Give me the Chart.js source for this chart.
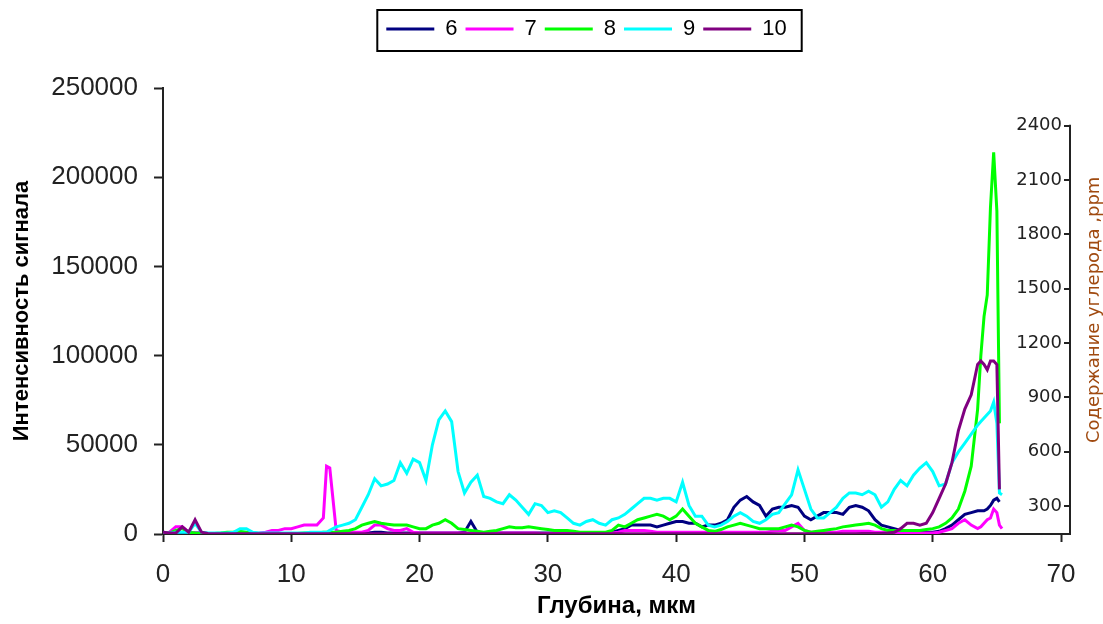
<!DOCTYPE html>
<html>
<head>
<meta charset="utf-8">
<script src="https://cdn.jsdelivr.net/npm/chart.js@4.4.1/dist/chart.umd.min.js"></script>
<style>
  html, body { margin: 0; padding: 0; background: #fff; }
  #wrap { width: 1103px; height: 624px; }
</style>
</head>
<body>
<div id="wrap"><canvas id="depthChart" width="1103" height="624"></canvas></div>
<script>
// Глубина, мкм
const depth = [
  0, 0.5, 1, 1.5, 2, 2.5, 3, 3.5, 4, 4.5,
  5, 5.5, 6, 6.5, 7, 7.5, 8, 8.5, 9, 9.5,
  10, 10.5, 11, 11.5, 12, 12.5, 12.75, 13, 13.5, 14,
  14.5, 15, 15.5, 16, 16.5, 17, 17.5, 18, 18.5, 19,
  19.5, 20, 20.5, 21, 21.5, 22, 22.5, 23, 23.5, 24,
  24.5, 25, 25.5, 26, 26.5, 27, 27.5, 28, 28.5, 29,
  29.5, 30, 30.5, 31, 31.5, 32, 32.5, 33, 33.5, 34,
  34.5, 35, 35.5, 36, 36.5, 37, 37.5, 38, 38.5, 39,
  39.5, 40, 40.5, 41, 41.5, 42, 42.5, 43, 43.5, 44,
  44.5, 45, 45.5, 46, 46.5, 47, 47.5, 48, 48.5, 49,
  49.5, 50, 50.5, 51, 51.5, 52, 52.5, 53, 53.5, 54,
  54.5, 55, 55.5, 56, 56.5, 57, 57.5, 58, 58.5, 59,
  59.5, 60, 60.5, 61, 61.5, 62, 62.5, 63, 63.5,
  63.75, 64, 64.25, 64.5, 64.75, 65, 65.2, 65.4
];

// Интенсивность сигнала по образцам
const signal6 = [
  1000, 500, 500, 500, 500, 500, 500, 300, 300, 300,
  300, 300, 300, 300, 300, 300, 300, 300, 300, 300,
  300, 300, 300, 300, 300, 300, 300, 300, 300, 300,
  300, 300, 500, 500, 1000, 1000, 500, 500, 500, 500,
  500, 500, 500, 500, 500, 500, 500, 500, 1000, 7000,
  1000, 500, 500, 500, 500, 500, 500, 500, 500, 500,
  500, 500, 500, 500, 500, 500, 500, 500, 500, 500,
  500, 1000, 2000, 3000, 5000, 5000, 5000, 5000, 4000, 5000,
  6000, 7000, 7000, 6000, 6000, 4000, 5000, 5000, 6000, 8000,
  15000, 19000, 21000, 18000, 16000, 10000, 14000, 15000, 15000, 16000,
  15000, 10000, 8000, 10000, 12000, 12000, 12000, 11000, 15000, 16000,
  15000, 13000, 8000, 5000, 4000, 3000, 2000, 1000, 1000, 1000,
  1000, 1000, 1500, 3000, 5000, 8000, 11000, 12000, 13000,
  13000, 13000, 14000, 16000, 19000, 20000, 18000, null
];
const signal7 = [
  500, 1000, 4000, 4000, 1000, 500, 300, 300, 300, 300,
  300, 300, 300, 300, 300, 500, 1000, 2000, 2000, 3000,
  3000, 4000, 5000, 5000, 5000, 9000, 38000, 37000, 2000, 1000,
  1000, 1000, 1000, 2000, 5000, 5000, 3000, 2000, 2000, 3000,
  1000, 500, 500, 500, 500, 500, 500, 500, 500, 500,
  500, 500, 500, 500, 500, 500, 500, 500, 500, 500,
  300, 300, 300, 300, 300, 300, 300, 300, 300, 300,
  300, 500, 1000, 2000, 2000, 2000, 2000, 1500, 1000, 1000,
  1000, 1000, 1000, 1000, 1000, 1000, 1000, 1000, 1000, 1000,
  1000, 1000, 1000, 1000, 1000, 1000, 1500, 2000, 2000, 4000,
  6000, 2000, 1000, 1000, 1000, 1000, 1000, 1500, 1500, 1500,
  1500, 1500, 1000, 1000, 1000, 500, 500, 500, 500, 500,
  500, 500, 1000, 2000, 3000, 6000, 8000, 5000, 3000,
  4000, 6000, 8000, 9000, 14000, 12000, 5000, 3000
];
const signal8 = [
  300, 500, 2000, 3000, 1000, 500, 300, 300, 300, 500,
  1000, 1000, 1500, 1000, 500, 300, 300, 300, 300, 300,
  300, 300, 500, 500, 500, 1000, 1000, 1000, 1000, 1500,
  2000, 3000, 5000, 6000, 7000, 6000, 5500, 5000, 5000, 5000,
  4000, 3000, 3000, 5000, 6000, 8000, 6000, 3000, 2500, 2000,
  1500, 1000, 1500, 2000, 3000, 4000, 3500, 3500, 4000, 3500,
  3000, 2500, 2000, 2000, 2000, 1500, 1000, 1000, 1000, 1000,
  1000, 2000, 5000, 4000, 6000, 8000, 9000, 10000, 11000, 10000,
  8000, 10000, 14000, 10000, 6000, 4000, 2000, 1500, 2500, 4000,
  5000, 6000, 5000, 4000, 3000, 3000, 3000, 3000, 4000, 5000,
  4000, 2000, 1000, 1500, 2000, 2500, 3000, 4000, 4500, 5000,
  5500, 6000, 5000, 3000, 2000, 2000, 2000, 2000, 2000, 2000,
  2500, 3000, 4000, 6000, 9000, 14000, 24000, 38000, 70000,
  100000, 122000, 134000, 183000, 214000, 181000, 62000, null
];
const signal9 = [
  500, 500, 1000, 1000, 1000, 6000, 1000, 500, 500, 500,
  500, 1000, 3000, 3000, 1000, 500, 500, 500, 500, 500,
  500, 500, 500, 1000, 1000, 1000, 1000, 2000, 4000, 5000,
  6000, 8000, 15000, 22000, 31000, 27000, 28000, 30000, 40000, 34000,
  42000, 40000, 30000, 50000, 64000, 69000, 63000, 35000, 23000, 29000,
  33000, 21000, 20000, 18000, 17000, 22000, 19000, 15000, 11000, 17000,
  16000, 12000, 13000, 12000, 9000, 6000, 5000, 7000, 8000, 6000,
  5000, 8000, 9000, 11000, 14000, 17000, 20000, 20000, 19000, 20000,
  20000, 18000, 29000, 16000, 10000, 10000, 5000, 4000, 5000, 7000,
  10000, 12000, 10000, 7000, 6000, 8000, 11000, 12000, 17000, 22000,
  36000, 25000, 14000, 9000, 9000, 12000, 15000, 20000, 23000, 23000,
  22000, 24000, 22000, 15000, 18000, 25000, 30000, 27000, 33000, 37000,
  40000, 35000, 27000, 28000, 40000, 46000, 51000, 56000, 61000,
  63000, 65000, 67000, 69000, 74000, 62000, 23000, 22000
];
const signal10 = [
  1000, 500, 500, 4000, 1000, 8000, 1000, 300, 200, 200,
  200, 200, 200, 200, 200, 200, 200, 200, 200, 200,
  200, 200, 200, 200, 200, 200, 200, 200, 200, 200,
  200, 200, 200, 200, 200, 200, 200, 200, 200, 200,
  200, 200, 200, 200, 200, 200, 200, 200, 200, 200,
  200, 200, 200, 200, 200, 200, 200, 200, 200, 200,
  200, 200, 200, 200, 200, 200, 200, 200, 200, 200,
  200, 200, 200, 200, 200, 200, 200, 200, 200, 200,
  200, 200, 200, 200, 200, 200, 200, 200, 200, 200,
  200, 200, 200, 200, 200, 200, 200, 200, 200, 200,
  200, 200, 200, 200, 200, 200, 200, 200, 200, 200,
  300, 300, 300, 300, 500, 1000, 3000, 6000, 6000, 5000,
  6000, 12000, 20000, 28000, 40000, 58000, 70000, 78000, 95000,
  97000, 95000, 92000, 97000, 97000, 95000, 25000, null
];

const seriesNames = ['6', '7', '8', '9', '10'];
const seriesColors = ['#000080', '#ff00ff', '#00ff00', '#00ffff', '#800080'];
const seriesValues = [signal6, signal7, signal8, signal9, signal10];

const depthTicks = [0, 10, 20, 30, 40, 50, 60, 70];
const intensityTicks = [0, 50000, 100000, 150000, 200000, 250000];
const carbonTicks = [300, 600, 900, 1200, 1500, 1800, 2100, 2400];

const axisColor = '#222';
const sansFont = '"Liberation Sans", Arial, sans-serif';

// легенда в рамке, сдвинута вправо
const legendFrame = {
    id: 'legendFrame',
    afterLayout(chart) {
        const lg = chart.legend;
        const h = lg.bottom - lg.top;
        lg.left += 35;
        lg.right += 35;
        lg.top = 10;
        lg.bottom = 10 + h;
    },
    afterDraw(chart) {
        const lg = chart.legend;
        const ctx = chart.ctx;
        const pad = lg.options.labels.padding;
        const lw = lg.lineWidths[0];
        const x0 = (lg.left + pad + lg.right - lw) / 2;
        ctx.save();
        ctx.strokeStyle = '#000';
        ctx.lineWidth = 2;
        ctx.strokeRect(x0 - 9, lg.top, lw - pad + 24, lg.bottom - lg.top + 1);
        ctx.restore();
    }
};

// правая ось: линия, штрихи внутрь и подпись
const carbonAxis = {
    id: 'carbonAxis',
    afterDraw(chart) {
        const s = chart.scales.y2;
        const ctx = chart.ctx;
        const bottom = chart.chartArea.bottom;
        const top = s.getPixelForValue(carbonTicks[carbonTicks.length - 1]);
        ctx.save();
        ctx.strokeStyle = axisColor;
        ctx.lineWidth = 2;
        ctx.beginPath();
        ctx.moveTo(s.left, top - 1);
        ctx.lineTo(s.left, bottom);
        carbonTicks.forEach(v => {
            const y = Math.round(s.getPixelForValue(v));
            ctx.moveTo(s.left - 6, y);
            ctx.lineTo(s.left, y);
        });
        ctx.stroke();

        ctx.translate(s.left + 24, (top + bottom) / 2 - 20);
        ctx.rotate(-Math.PI / 2);
        ctx.fillStyle = '#a04a10';
        ctx.font = '18px "DejaVu Sans", sans-serif';
        ctx.textAlign = 'center';
        ctx.textBaseline = 'middle';
        ctx.fillText('Содержание углерода ,ppm', 0, 0);
        ctx.restore();
    }
};

document.addEventListener('DOMContentLoaded', () => {
    Chart.defaults.font.family = sansFont;
    Chart.defaults.color = axisColor;

    // фиолетовый поверх остальных, как в исходном порядке серий
    const drawOrder = [4, 3, 2, 1, 0];

    const datasets = seriesNames.map((name, k) => ({
        label: name,
        data: depth.map((d, i) => ({ x: d, y: seriesValues[k][i] })),
        borderColor: seriesColors[k],
        backgroundColor: seriesColors[k],
        borderWidth: 3,
        pointRadius: 0,
        tension: 0,
        order: drawOrder[k],
        yAxisID: 'y'
    }));

    new Chart(document.getElementById('depthChart'), {
        type: 'line',
        data: { datasets },
        options: {
            responsive: false,
            animation: false,
            devicePixelRatio: 1,
            layout: { padding: { top: 48, left: 0, right: 0, bottom: 0 } },
            plugins: {
                tooltip: { enabled: false },
                legend: {
                    position: 'top',
                    labels: {
                        usePointStyle: true,
                        pointStyle: 'line',
                        pointStyleWidth: 48,
                        padding: 8,
                        color: '#000',
                        font: { size: 22 },
                        sort: (a, b) => a.datasetIndex - b.datasetIndex
                    }
                }
            },
            scales: {
                x: {
                    type: 'linear',
                    min: 0,
                    max: 70.7,
                    afterBuildTicks: s => { s.ticks = depthTicks.map(v => ({ value: v })); },
                    afterFit: s => { s.height = 90; },
                    grid: { drawOnChartArea: false, drawTicks: true, tickLength: 8, tickColor: axisColor, tickWidth: 2 },
                    border: { display: true, color: axisColor, width: 2 },
                    ticks: { font: { size: 26 }, padding: 17, maxRotation: 0, autoSkip: false },
                    title: {
                        display: true,
                        text: 'Глубина, мкм',
                        color: '#000',
                        font: { size: 24, weight: 'bold' },
                        padding: { top: 0, bottom: 3 }
                    }
                },
                y: {
                    position: 'left',
                    min: 0,
                    max: 250000,
                    afterBuildTicks: s => { s.ticks = intensityTicks.map(v => ({ value: v })); },
                    afterFit: s => { s.width = 163; },
                    grid: { drawOnChartArea: false, drawTicks: true, tickLength: 9, tickColor: axisColor, tickWidth: 2 },
                    border: { display: true, color: axisColor, width: 2 },
                    ticks: { font: { size: 26 }, padding: 16, callback: v => String(v) },
                    title: {
                        display: true,
                        text: 'Интенсивность сигнала',
                        color: '#000',
                        font: { size: 22, weight: 'bold' },
                        padding: { top: 9, bottom: 0 }
                    }
                },
                y2: {
                    position: 'right',
                    min: 146,
                    max: 2608,
                    afterBuildTicks: s => { s.ticks = carbonTicks.map(v => ({ value: v })); },
                    afterFit: s => { s.width = 33; },
                    grid: { display: false },
                    border: { display: false },
                    ticks: {
                        mirror: true,
                        padding: -8,
                        font: { family: '"DejaVu Sans", sans-serif', size: 18 },
                        callback: v => String(v)
                    }
                }
            }
        },
        plugins: [legendFrame, carbonAxis]
    });
});
</script>
</body>
</html>
